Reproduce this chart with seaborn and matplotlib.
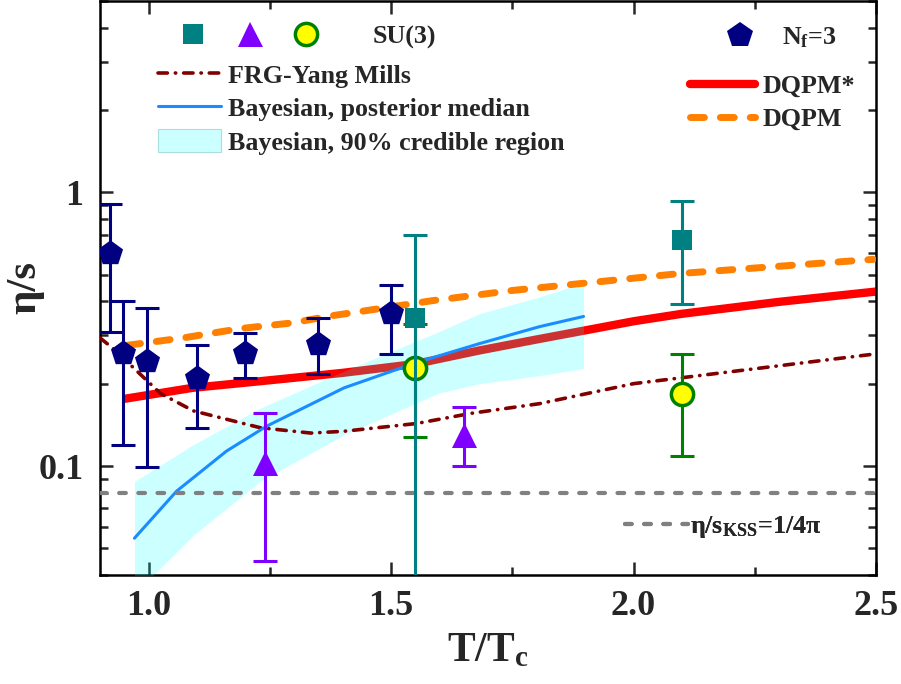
import numpy as np
import pandas as pd
import matplotlib
matplotlib.use("Agg")
import matplotlib.pyplot as plt
import seaborn as sns
from matplotlib.legend_handler import HandlerTuple
from matplotlib.lines import Line2D
from matplotlib.patches import Patch
from matplotlib.ticker import MultipleLocator, LogLocator, NullFormatter, FormatStrFormatter

# ---------------- data ----------------
frg_x = [0.90, 0.928, 1.025, 1.093, 1.231, 1.335, 1.403, 1.552, 1.667, 1.806, 2.0, 2.5]
frg_y = [0.294, 0.268, 0.184, 0.159, 0.138, 0.132, 0.134, 0.143, 0.156, 0.169, 0.200, 0.257]

dqpm_star_x = [0.95, 1.09, 1.24, 1.40, 1.55, 1.68, 1.80, 1.90, 2.00, 2.10, 2.30, 2.50]
dqpm_star_y = [0.176, 0.193, 0.205, 0.219, 0.236, 0.264, 0.290, 0.313, 0.338, 0.360, 0.398, 0.434]

dqpm_x = [0.955, 1.072, 1.19, 1.30, 1.368, 1.419, 1.585, 1.75, 2.095, 2.494]
dqpm_y = [0.276, 0.294, 0.318, 0.334, 0.352, 0.363, 0.402, 0.438, 0.505, 0.569]

bay_x = [0.971, 1.058, 1.161, 1.244, 1.403, 1.55, 1.682, 1.806, 1.897]
bay_med = [0.0545, 0.081, 0.1135, 0.140, 0.193, 0.238, 0.280, 0.323, 0.352]

band_x = [0.971, 1.01, 1.093, 1.231, 1.403, 1.599, 1.682, 1.806, 1.897]
band_lo = [0.030, 0.040, 0.056, 0.088, 0.130, 0.185, 0.200, 0.214, 0.227]
band_hi = [0.088, 0.097, 0.120, 0.163, 0.222, 0.310, 0.360, 0.415, 0.467]

kss = 1.0 / (4.0 * np.pi)

nf3_x = [0.92, 0.948, 0.996, 1.10, 1.20, 1.35, 1.50]
nf3_y = [0.60, 0.259, 0.243, 0.210, 0.259, 0.280, 0.361]
nf3_lo = [0.31, 0.119, 0.099, 0.138, 0.209, 0.217, 0.257]
nf3_hi = [0.91, 0.402, 0.379, 0.277, 0.307, 0.348, 0.460]

sq_x = [1.55, 2.10]
sq_y = [0.348, 0.667]
sq_lo = [0.001, 0.392]
sq_hi = [0.70, 0.927]

tri_x = [1.24, 1.65]
tri_y = [0.1025, 0.130]
tri_lo = [0.045, 0.100]
tri_hi = [0.156, 0.164]

circ_x = [1.55, 2.10]
circ_y = [0.229, 0.184]
circ_lo = [0.128, 0.109]
circ_hi = [0.331, 0.257]

# ---------------- style ----------------
sns.set_theme(style="ticks")
plt.rcParams["font.family"] = ["Liberation Serif", "DejaVu Serif"]
plt.rcParams["font.weight"] = "bold"
plt.rcParams["mathtext.fontset"] = "custom"
plt.rcParams["mathtext.rm"] = "Liberation Serif:bold"
plt.rcParams["mathtext.it"] = "Liberation Serif:bold"
plt.rcParams["mathtext.bf"] = "Liberation Serif:bold"
plt.rcParams["axes.linewidth"] = 1.8

C_TEAL = "#008080"
C_PURP = "#8000FF"
C_NAVY = "#000080"
C_GREEN = "#008000"
C_RED = "#FF0000"
C_ORANGE = "#FF8000"
C_DRED = "#800000"
C_BLUE = "#1A8CFF"
C_GRAY = "#808080"

ORANGE_DASH = (0, (2.0, 2.3))
GRAY_DASH = (0, (1.6, 3.0))
FRG_DASH = (0, (2.6, 2.2, 0.1, 2.2))

fig = plt.figure(figsize=(9.01, 6.84), dpi=100)
ax = fig.add_axes([100 / 901, 109 / 684, 776 / 901, 574 / 684])
ax.set_yscale("log")

# theory curves
sns.lineplot(x=dqpm_star_x, y=dqpm_star_y, ax=ax, color=C_RED, lw=6, zorder=2,
             solid_capstyle="butt", sort=False, estimator=None)
ax.fill_between(band_x, band_lo, band_hi, color="#00FFFF", alpha=0.2, lw=0, zorder=3)
sns.lineplot(x=frg_x, y=frg_y, ax=ax, color=C_DRED, lw=2.6, zorder=4, sort=False, estimator=None,
             ls=FRG_DASH, dash_capstyle="round")
sns.lineplot(x=bay_x, y=bay_med, ax=ax, color=C_BLUE, lw=2.2, zorder=4, sort=False, estimator=None)
sns.lineplot(x=dqpm_x, y=dqpm_y, ax=ax, color=C_ORANGE, lw=5, zorder=4, sort=False, estimator=None,
             ls=ORANGE_DASH, dash_capstyle="round")
ax.axhline(kss, color=C_GRAY, lw=3, ls=GRAY_DASH, dash_capstyle="round", zorder=4)

# error bars + markers
def ebar(x, y, lo, hi, color, z):
    y = np.array(y); lo = np.array(lo); hi = np.array(hi)
    ax.errorbar(x, y, yerr=[y - lo, hi - y], fmt="none", ecolor=color, elinewidth=2.2,
                capsize=8.5, capthick=2.2, zorder=z)

ebar(circ_x, circ_y, circ_lo, circ_hi, C_GREEN, 5)
sns.scatterplot(x=circ_x, y=circ_y, ax=ax, marker="o", s=16 ** 2, color="#FFFF00",
                edgecolor=C_GREEN, linewidth=2.5, zorder=6)
ebar(sq_x, sq_y, sq_lo, sq_hi, C_TEAL, 7)
sns.scatterplot(x=sq_x, y=sq_y, ax=ax, marker="s", s=15 ** 2, color=C_TEAL, linewidth=0, zorder=8)
ebar(tri_x, tri_y, tri_lo, tri_hi, C_PURP, 7)
sns.scatterplot(x=tri_x, y=tri_y, ax=ax, marker="^", s=18 ** 2, color=C_PURP, linewidth=0, zorder=8)
ebar(nf3_x, nf3_y, nf3_lo, nf3_hi, C_NAVY, 7)
sns.scatterplot(x=nf3_x, y=nf3_y, ax=ax, marker="p", s=19 ** 2, color=C_NAVY, linewidth=0, zorder=8)

# axes
ax.set_xlim(0.9, 2.5)
ax.set_ylim(0.04, 5)
ax.xaxis.set_major_locator(MultipleLocator(0.5))
ax.xaxis.set_minor_locator(MultipleLocator(0.25))
ax.xaxis.set_major_formatter(FormatStrFormatter("%.1f"))
ax.set_yticks([0.1, 1])
ax.set_yticklabels(["0.1", "1"])
ax.yaxis.set_minor_locator(LogLocator(base=10, subs=np.arange(2, 10)))
ax.yaxis.set_minor_formatter(NullFormatter())
ax.tick_params(which="both", direction="in", top=True, right=True, width=1.8, labelsize=26)
ax.tick_params(which="major", length=9.5)
ax.tick_params(which="minor", length=5.5)
ax.tick_params(axis="x", which="major", pad=11)
ax.tick_params(axis="y", which="major", pad=12)
for lab in ax.get_xticklabels() + ax.get_yticklabels():
    lab.set_fontweight("bold")
for s in ax.spines.values():
    s.set_linewidth(1.8)
    s.set_color("black")

ax.set_xlabel(r"$T/T_c$", fontsize=30, labelpad=6)
ax.set_ylabel("η/s", fontsize=31, fontweight="bold")
ax.yaxis.set_label_coords(-0.072, 0.5)

# legends
leg_kw = dict(frameon=False, borderpad=0, borderaxespad=0, prop={"weight": "bold", "size": 18.7})

h_sq = Line2D([], [], marker="s", ls="none", color=C_TEAL, markersize=15, markeredgewidth=0)
h_tri = Line2D([], [], marker="^", ls="none", color=C_PURP, markersize=18, markeredgewidth=0)
h_circ = Line2D([], [], marker="o", ls="none", markerfacecolor="#FFFF00", markeredgecolor=C_GREEN,
                markersize=16, markeredgewidth=2.5)
leg1 = ax.legend([(h_sq, h_tri, h_circ)], ["SU(3)"], loc="upper left", bbox_to_anchor=(0.084, 0.958),
                 handler_map={tuple: HandlerTuple(ndivide=None, pad=0)}, handlelength=6.5,
                 handletextpad=1.5, **leg_kw)
ax.add_artist(leg1)

h_nf = Line2D([], [], marker="p", ls="none", color=C_NAVY, markersize=19, markeredgewidth=0)
leg2 = ax.legend([h_nf], [r"N$_{\rm f}$=3"], loc="upper left", bbox_to_anchor=(0.805, 0.958),
                 handlelength=1.2, handletextpad=1.0, **leg_kw)
ax.add_artist(leg2)

h_frg = Line2D([], [], color=C_DRED, lw=2.6, ls=FRG_DASH, dash_capstyle="round")
h_bay = Line2D([], [], color=C_BLUE, lw=2.2)
h_band = Patch(facecolor="#CCFFFF", edgecolor="#AADDDD", lw=0.8)
leg3 = ax.legend([h_frg, h_bay, h_band],
                 ["FRG-Yang Mills", "Bayesian, posterior median", "Bayesian, 90% credible region"],
                 loc="upper left", bbox_to_anchor=(0.075, 0.893), handlelength=2.4,
                 handletextpad=0.3, labelspacing=0.3, handleheight=1.0, **leg_kw)
ax.add_artist(leg3)

h_ds = Line2D([], [], color=C_RED, lw=6, solid_capstyle="round")
h_d = Line2D([], [], color=C_ORANGE, lw=5, ls=ORANGE_DASH, dash_capstyle="round")
leg4 = ax.legend([h_ds, h_d], ["DQPM*", "DQPM"], loc="upper left", bbox_to_anchor=(0.760, 0.872),
                 handlelength=2.5, handletextpad=0.3, labelspacing=0.38, **leg_kw)
ax.add_artist(leg4)

h_kss = Line2D([], [], color=C_GRAY, lw=3, ls=GRAY_DASH, dash_capstyle="round")
leg5 = ax.legend([h_kss], [r"η/s$_{\rm KSS}$=1/4π"], loc="center left", bbox_to_anchor=(0.677, 0.083),
                 handlelength=2.4, handletextpad=0.1, **leg_kw)
ax.add_artist(leg5)

fig.savefig("out.png", dpi=100)
